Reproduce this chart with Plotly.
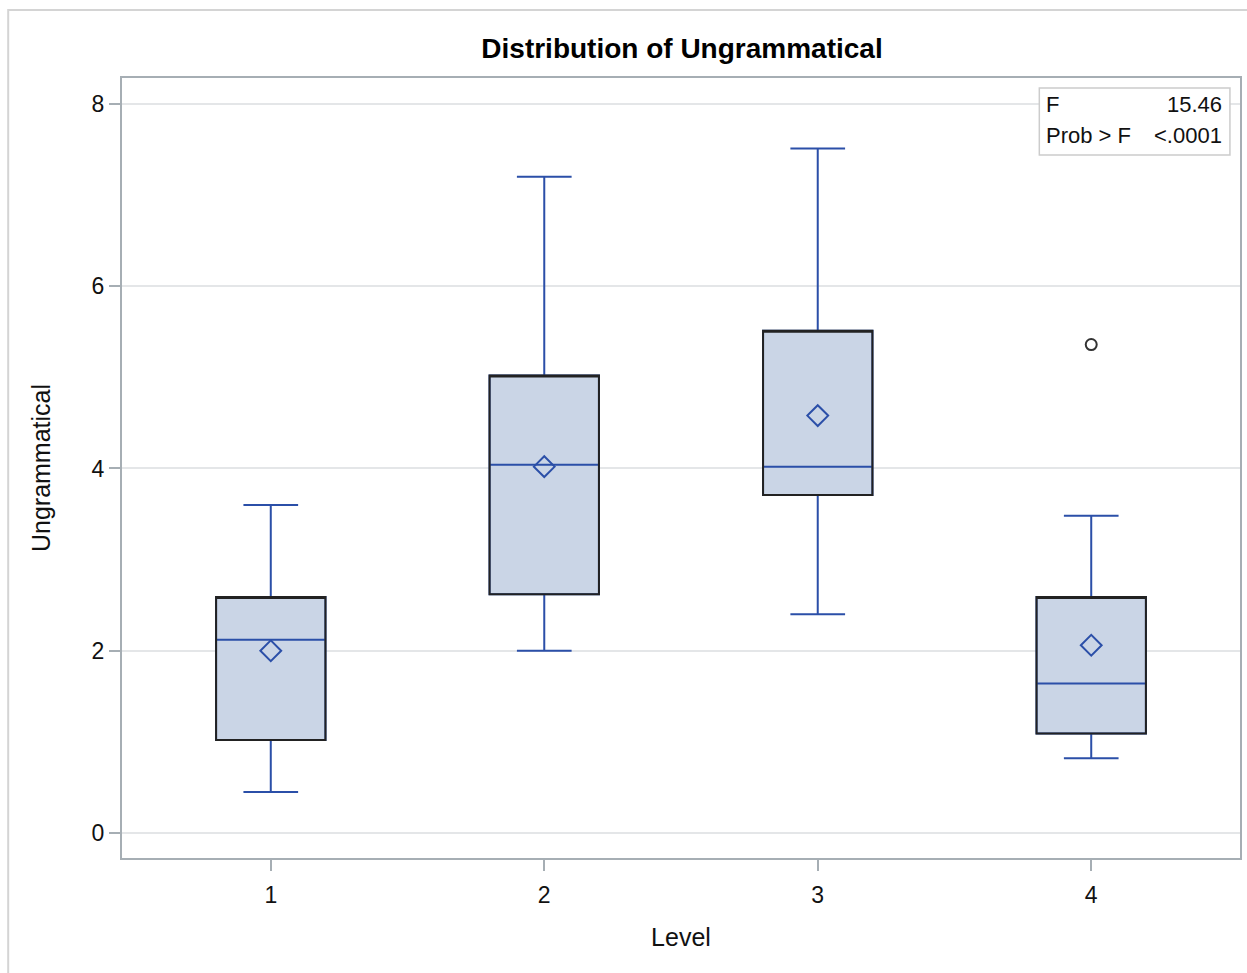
import plotly.graph_objects as go

# ---- data ----
levels = [1, 2, 3, 4]
q1 = [1.02, 2.62, 3.71, 1.09]
median = [2.12, 4.04, 4.02, 1.64]
q3 = [2.59, 5.02, 5.51, 2.59]
lower_whisker = [0.45, 2.00, 2.40, 0.82]
upper_whisker = [3.60, 7.20, 7.51, 3.48]
means = [2.00, 4.02, 4.58, 2.06]
outlier_level = [4]
outlier_value = [5.36]
y_ticks = [0, 2, 4, 6, 8]
stat_labels = ["F", "Prob > F"]
stat_values = ["15.46", "<.0001"]

BLUE = "#2B4FA8"
FILL = "#CAD5E6"
EDGE = "#222222"
FONT = "Liberation Sans, Arial, sans-serif"

fig = go.Figure()

# whiskers, median and fill (blue)
fig.add_trace(go.Box(
    x=levels, q1=q1, median=median, q3=q3,
    lowerfence=lower_whisker, upperfence=upper_whisker,
    width=0.4, whiskerwidth=0.5,
    fillcolor=FILL, line=dict(color=BLUE, width=2),
    boxpoints=False, hoverinfo="skip", showlegend=False,
    offsetgroup="a",
))
# dark box outline on top (transparent fill)
fig.add_trace(go.Box(
    x=levels, q1=q1, median=q3, q3=q3,
    lowerfence=q1, upperfence=q3,
    width=0.4, whiskerwidth=0,
    fillcolor="rgba(0,0,0,0)", line=dict(color=EDGE, width=2),
    boxpoints=False, hoverinfo="skip", showlegend=False,
    offsetgroup="a",
))
# means
fig.add_trace(go.Scatter(
    x=levels, y=means, mode="markers",
    marker=dict(symbol="diamond-open", size=16, color=BLUE, line=dict(width=2, color=BLUE)),
    hoverinfo="skip", showlegend=False,
))
# outliers
fig.add_trace(go.Scatter(
    x=outlier_level, y=outlier_value, mode="markers",
    marker=dict(symbol="circle-open", size=11, color="#333333", line=dict(width=2, color="#333333")),
    hoverinfo="skip", showlegend=False,
))

axis_line = "#A6AEB4"
fig.update_layout(
    width=1247, height=973,
    margin=dict(l=122, r=5, t=78, b=115),
    paper_bgcolor="white", plot_bgcolor="white",
    boxmode="overlay",
    font=dict(family=FONT, color="#111111", size=22),
    title=dict(text="<b>Distribution of Ungrammatical</b>", x=(682) / 1247, xanchor="center",
               y=1 - 48 / 973, yanchor="middle",
               font=dict(family=FONT, size=28, color="black")),
    xaxis=dict(
        range=[0.456, 4.544], tickmode="array", tickvals=levels,
        ticktext=[str(v) for v in levels],
        showgrid=False, zeroline=False,
        showline=True, linecolor=axis_line, linewidth=2, mirror=True,
        ticks="outside", ticklen=11, tickcolor=axis_line, tickwidth=2,
        tickfont=dict(size=23), ticklabelstandoff=4,
        title=dict(text="Level", font=dict(size=25), standoff=22),
    ),
    yaxis=dict(
        range=[-0.275, 8.285], tickmode="array", tickvals=y_ticks,
        ticktext=[str(v) for v in y_ticks],
        showgrid=True, gridcolor="#E4E6E8", gridwidth=2, zeroline=False,
        showline=True, linecolor=axis_line, linewidth=2, mirror=True,
        ticks="outside", ticklen=11, tickcolor=axis_line, tickwidth=2,
        tickfont=dict(size=23),
        title=dict(text="Ungrammatical", font=dict(size=25), standoff=34),
    ),
)

# outer frame of the graph
fig.add_shape(type="rect", xref="paper", yref="paper",
              x0=-0.1018, x1=1.02, y0=-0.3, y1=1.0872,
              line=dict(color="#D4D4D4", width=2), fillcolor="rgba(0,0,0,0)", layer="below")

# statistics inset
fig.add_shape(type="rect", xref="paper", yref="paper",
              x0=0.8205, x1=0.991, y0=0.9013, y1=0.9872,
              line=dict(color="#CCCCCC", width=1.5), fillcolor="white", layer="above")
row_y = [1 - (104 - 78) / 780, 1 - (136 - 78) / 780]
for lab, val, yy in zip(stat_labels, stat_values, row_y):
    fig.add_annotation(xref="paper", yref="paper", x=(1046 - 122) / 1120, y=yy,
                       text=lab, showarrow=False, xanchor="left", yanchor="middle",
                       font=dict(size=22, family=FONT, color="#111111"))
    fig.add_annotation(xref="paper", yref="paper", x=(1226 - 122) / 1120, y=yy,
                       text=val, showarrow=False, xanchor="right", yanchor="middle",
                       font=dict(size=22, family=FONT, color="#111111"))

fig.write_html("out.html")
